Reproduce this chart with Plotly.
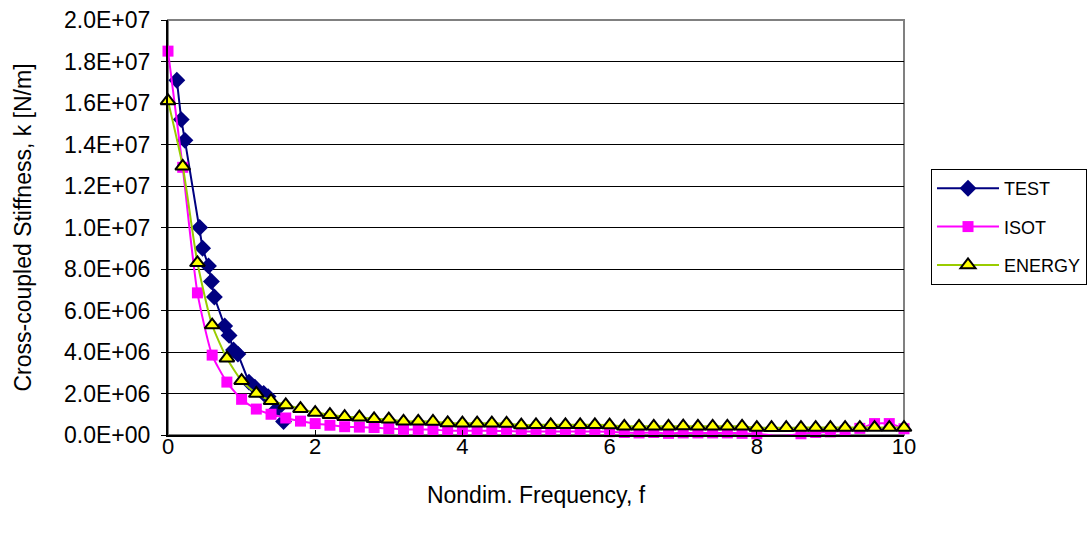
import plotly.graph_objects as go

# ---- data ----
test_x = [0.12, 0.18, 0.23, 0.43, 0.47, 0.55, 0.59, 0.63, 0.77, 0.83, 0.89, 0.95,
          1.10, 1.18, 1.30, 1.36, 1.48, 1.57]
test_k = [17.1e6, 15.2e6, 14.2e6, 10.0e6, 9.0e6, 8.15e6, 7.4e6, 6.65e6, 5.25e6, 4.8e6,
          4.1e6, 3.9e6, 2.55e6, 2.3e6, 2.0e6, 1.85e6, 1.25e6, 0.65e6]

freq = [0.0, 0.2, 0.4, 0.6, 0.8, 1.0, 1.2, 1.4, 1.6, 1.8, 2.0, 2.2, 2.4, 2.6, 2.8, 3.0,
        3.2, 3.4, 3.6, 3.8, 4.0, 4.2, 4.4, 4.6, 4.8, 5.0, 5.2, 5.4, 5.6, 5.8, 6.0, 6.2,
        6.4, 6.6, 6.8, 7.0, 7.2, 7.4, 7.6, 7.8, 8.0, 8.2, 8.4, 8.6, 8.8, 9.0, 9.2, 9.4,
        9.6, 9.8, 10.0]

isot_k = [18.5e6, 12.9e6, 6.85e6, 3.85e6, 2.55e6, 1.72e6, 1.25e6, 1.0e6, 0.82e6, 0.67e6,
          0.55e6, 0.47e6, 0.40e6, 0.38e6, 0.36e6, 0.31e6, 0.27e6, 0.27e6, 0.26e6, 0.21e6,
          0.20e6, 0.20e6, 0.20e6, 0.19e6, 0.17e6, 0.17e6, 0.17e6, 0.17e6, 0.17e6, 0.17e6,
          0.16e6, 0.12e6, 0.10e6, 0.12e6, 0.08e6, 0.10e6, 0.10e6, 0.10e6, 0.10e6, 0.08e6,
          0.06e6, -0.02e6, -0.02e6, 0.06e6, 0.12e6, 0.15e6, 0.20e6, 0.32e6, 0.55e6, 0.55e6,
          0.30e6]

energy_k = [16.1e6, 12.95e6, 8.3e6, 5.3e6, 3.7e6, 2.62e6, 2.0e6, 1.65e6, 1.45e6, 1.27e6,
            1.08e6, 0.98e6, 0.88e6, 0.86e6, 0.78e6, 0.76e6, 0.66e6, 0.66e6, 0.65e6, 0.58e6,
            0.57e6, 0.57e6, 0.57e6, 0.56e6, 0.48e6, 0.49e6, 0.49e6, 0.49e6, 0.49e6, 0.49e6,
            0.48e6, 0.42e6, 0.42e6, 0.42e6, 0.42e6, 0.43e6, 0.42e6, 0.42e6, 0.42e6, 0.42e6,
            0.36e6, 0.35e6, 0.35e6, 0.36e6, 0.36e6, 0.36e6, 0.36e6, 0.36e6, 0.36e6, 0.36e6,
            0.36e6]

y_tickvals = [0, 2e6, 4e6, 6e6, 8e6, 10e6, 12e6, 14e6, 16e6, 18e6, 20e6]
y_ticktext = ["0.0E+00", "2.0E+06", "4.0E+06", "6.0E+06", "8.0E+06", "1.0E+07",
              "1.2E+07", "1.4E+07", "1.6E+07", "1.8E+07", "2.0E+07"]
x_tickvals = [0, 2, 4, 6, 8, 10]

FONT = "Liberation Sans, Arial, sans-serif"

fig = go.Figure()
fig.add_trace(go.Scatter(
    x=test_x, y=test_k, name="TEST", mode="lines+markers", legendgroup="a",
    line=dict(color="#000080", width=2),
    marker=dict(symbol="diamond", size=13, color="#000080"),
    cliponaxis=False))
fig.add_trace(go.Scatter(
    x=freq, y=isot_k, name="ISOT", mode="lines+markers", legendgroup="b",
    line=dict(color="#FF00FF", width=2, shape="spline", smoothing=0.6),
    marker=dict(symbol="square", size=11, color="#FF00FF"),
    cliponaxis=False))
fig.add_trace(go.Scatter(
    x=freq, y=energy_k, name="ENERGY", mode="lines+markers", legendgroup="c",
    line=dict(color="#99CC00", width=2, shape="spline", smoothing=0.6),
    marker=dict(symbol="triangle-up", size=13, color="#FFFF00",
                line=dict(color="#000000", width=2)),
    cliponaxis=False))

fig.update_layout(
    width=1089, height=536,
    margin=dict(l=168, r=185, t=20, b=101, autoexpand=False),
    paper_bgcolor="white", plot_bgcolor="white",
    font=dict(family=FONT, size=24, color="black"),
    showlegend=True,
    legend=dict(x=1.0367, xanchor="left", y=0.641, yanchor="top",
                bordercolor="black", borderwidth=1, bgcolor="white",
                font=dict(family=FONT, size=18), tracegroupgap=12,
                itemwidth=62),
    xaxis=dict(range=[0, 10], tickvals=x_tickvals, showgrid=False,
               showline=True, linecolor="black", linewidth=2,
               ticks="inside", ticklen=5, tickcolor="black",
               zeroline=False, tickfont=dict(size=22), ticklabelstandoff=-9,
               title=dict(text="Nondim. Frequency, f", standoff=28,
                          font=dict(size=23))),
    yaxis=dict(range=[0, 2e7], tickvals=y_tickvals, ticktext=y_ticktext,
               showgrid=True, gridcolor="black", gridwidth=1,
               showline=True, linecolor="black", linewidth=2,
               ticks="outside", ticklen=5, tickcolor="black",
               zeroline=False, tickfont=dict(size=23), ticklabelstandoff=6,
               title=dict(text="Cross-coupled Stiffness, k [N/m]", standoff=26,
                          font=dict(size=23))),
    shapes=[dict(type="rect", xref="paper", yref="paper", x0=0, x1=1, y0=0, y1=1,
                 line=dict(color="#808080", width=2), layer="below")],
)

fig.write_html("out.html")
